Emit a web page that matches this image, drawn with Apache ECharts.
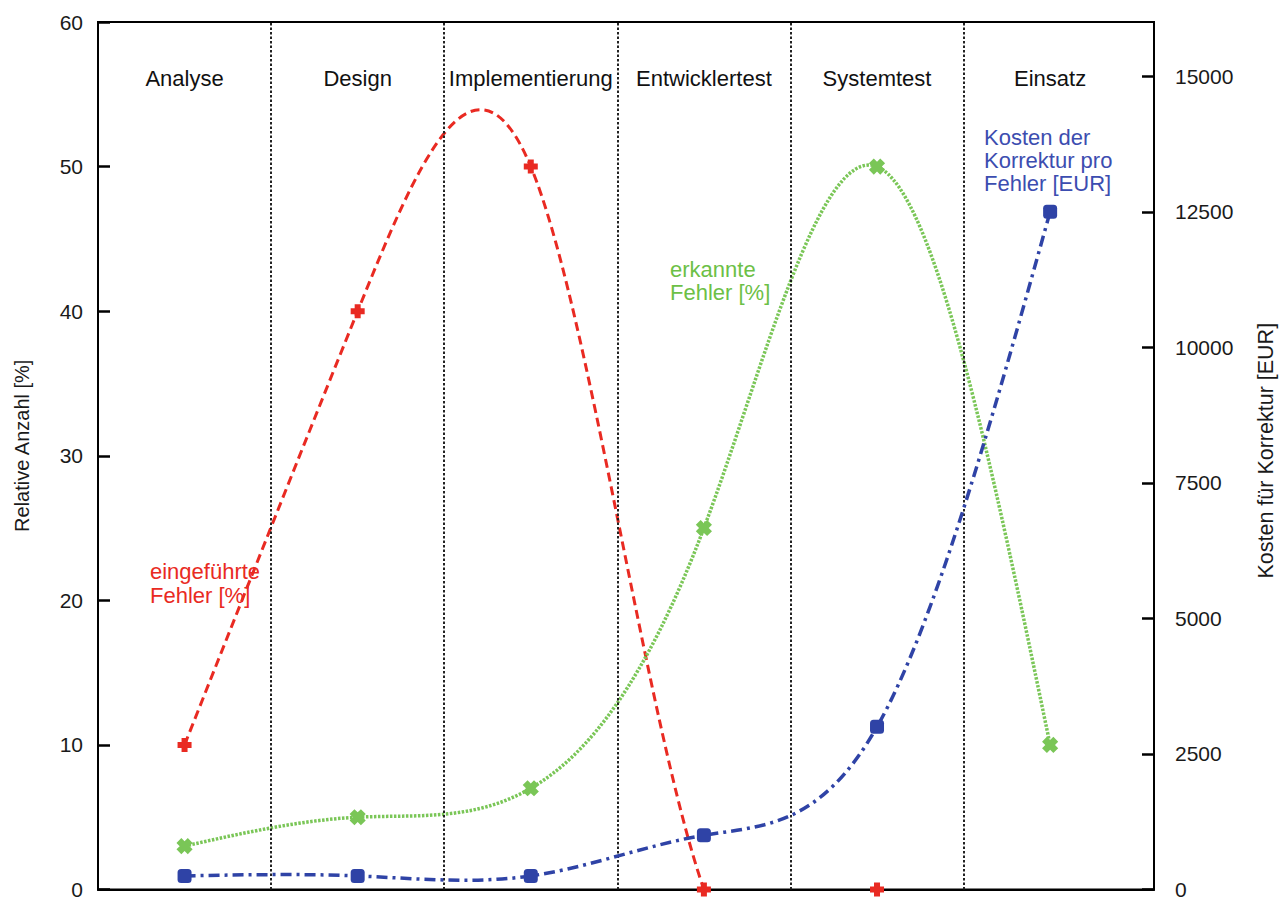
<!DOCTYPE html>
<html>
<head>
<meta charset="utf-8">
<script src="https://cdn.jsdelivr.net/npm/echarts@6/dist/echarts.min.js"></script>
<style>
  html, body { margin: 0; padding: 0; background: #ffffff; }
  #chart { width: 1285px; height: 900px; }
</style>
</head>
<body>
<div id="chart"></div>
<script>
// ---- data ----
const categories = ['Analyse', 'Design', 'Implementierung', 'Entwicklertest', 'Systemtest', 'Einsatz'];
const eingefuehrteFehler = [10, 40, 50, 0, 0];            // % (left axis)
const erkannteFehler = [3, 5, 7, 25, 50, 10];             // % (left axis)
const kostenProFehler = [250, 250, 250, 1000, 3000, 12500]; // EUR (right axis)
const leftTicks = [0, 60, 10];      // min, max, interval
const rightTicks = [0, 16000, 2500];

// ---- style / layout constants ----
const FONT = '"Liberation Sans", Arial, Helvetica, sans-serif';
const RED = '#e92a22', GREEN = '#7ac657', BLUE = '#2f43a6';
const headerLevel = 56.1;

function splinePath(pts) {
  const n = pts.length;
  const h = [], M = new Array(n).fill(0);
  for (let i = 0; i < n - 1; i++) h[i] = pts[i + 1][0] - pts[i][0];
  const a = [], b = [], c = [], d = [];
  for (let i = 1; i < n - 1; i++) {
    a.push(h[i - 1]); b.push(2 * (h[i - 1] + h[i])); c.push(h[i]);
    d.push(6 * ((pts[i + 1][1] - pts[i][1]) / h[i] - (pts[i][1] - pts[i - 1][1]) / h[i - 1]));
  }
  const m = b.length;
  for (let i = 1; i < m; i++) { const w = a[i] / b[i - 1]; b[i] -= w * c[i - 1]; d[i] -= w * d[i - 1]; }
  const sol = new Array(m);
  for (let i = m - 1; i >= 0; i--) sol[i] = (d[i] - (i < m - 1 ? c[i] * sol[i + 1] : 0)) / b[i];
  for (let i = 0; i < m; i++) M[i + 1] = sol[i];
  let p = 'M' + pts[0][0] + ',' + pts[0][1];
  for (let i = 0; i < n - 1; i++) {
    const x0 = pts[i][0], y0 = pts[i][1], x1 = pts[i + 1][0], y1 = pts[i + 1][1], hh = h[i];
    const s = (y1 - y0) / hh;
    const d0 = s - hh * (2 * M[i] + M[i + 1]) / 6;
    const d1 = s + hh * (M[i] + 2 * M[i + 1]) / 6;
    p += ' C' + (x0 + hh / 3) + ',' + (y0 + d0 * hh / 3) + ' ' + (x1 - hh / 3) + ',' + (y1 - d1 * hh / 3) + ' ' + x1 + ',' + y1;
  }
  return p;
}

function curveSeries(name, vals, color, width, dash, yAxisIndex, z) {
  return {
    type: 'custom', name: name, yAxisIndex: yAxisIndex, z: z, silent: true,
    data: vals.map((v, i) => [i, v]),
    encode: { x: 0, y: 1 },
    renderItem: function (params, api) {
      if (params.dataIndex !== 0) return null;
      const pts = vals.map((v, i) => api.coord([i, v]));
      const cs = params.coordSys;
      return {
        type: 'path',
        shape: { pathData: splinePath(pts) },
        style: { fill: 'none', stroke: color, lineWidth: width, lineDash: dash },
        clipPath: { type: 'rect', shape: { x: cs.x, y: cs.y, width: cs.width, height: cs.height } }
      };
    }
  };
}

const PLUS = 'path://M4,0H10V4H14V10H10V14H4V10H0V4H4Z';

function markerSeries(name, vals, color, symbol, size, rotate, yAxisIndex) {
  return {
    type: 'scatter', name: name, yAxisIndex: yAxisIndex, z: 10, silent: true,
    data: vals.map((v, i) => [i, v]),
    symbol: symbol, symbolSize: size, symbolRotate: rotate,
    itemStyle: { color: color, opacity: 1 }
  };
}

const chart = echarts.init(document.getElementById('chart'), null, { renderer: 'svg' });
chart.setOption({
  animation: false,
  backgroundColor: '#ffffff',
  grid: { left: 98, right: 129, top: 22, bottom: 10, show: true, borderColor: '#000', borderWidth: 2, backgroundColor: 'transparent' },
  xAxis: {
    type: 'value', min: -0.5, max: 5.6,
    axisLine: { show: true, onZero: false, lineStyle: { color: '#000', width: 2 } },
    axisTick: { show: false }, axisLabel: { show: false }, splitLine: { show: false }
  },
  yAxis: [
    {
      type: 'value', min: leftTicks[0], max: leftTicks[1], interval: leftTicks[2],
      name: 'Relative Anzahl [%]', nameLocation: 'middle', nameGap: 66,
      nameTextStyle: { fontFamily: FONT, fontSize: 20, color: '#1a1a1a', padding: [0, 0, 0, 20] },
      axisLine: { show: true, onZero: false, lineStyle: { color: '#000', width: 2 } },
      axisTick: { show: true, inside: true, length: 12, lineStyle: { color: '#000', width: 2.5 } },
      axisLabel: { fontFamily: FONT, fontSize: 21, color: '#1a1a1a', margin: 15 },
      splitLine: { show: false }
    },
    {
      type: 'value', position: 'right', min: rightTicks[0], max: rightTicks[1], interval: rightTicks[2],
      name: 'Kosten für Korrektur [EUR]', nameLocation: 'middle', nameGap: 101, nameRotate: 90,
      nameTextStyle: { fontFamily: FONT, fontSize: 21.5, color: '#1a1a1a', padding: [0, 0, 0, 10] },
      axisLine: { show: true, onZero: false, lineStyle: { color: '#000', width: 2 } },
      axisTick: { show: true, inside: true, length: 12, lineStyle: { color: '#000', width: 2.5 } },
      axisLabel: { fontFamily: FONT, fontSize: 21, color: '#1a1a1a', margin: 21, showMaxLabel: false,
                   formatter: v => String(v) },
      splitLine: { show: false }
    }
  ],
  series: [
    {
      type: 'scatter', name: 'Phasen', z: 1, silent: true,
      data: categories.map((c, i) => [i, headerLevel]),
      symbolSize: 0,
      itemStyle: { opacity: 1 },
      label: {
        show: true, position: 'inside', formatter: p => categories[p.dataIndex],
        fontFamily: FONT, fontSize: 22, color: '#111111', opacity: 1
      },
      markLine: {
        silent: true, symbol: 'none', label: { show: false },
        lineStyle: { color: '#222', width: 2, type: [2.5, 2] },
        data: categories.slice(1).map((c, i) => ({ xAxis: i + 0.5 }))
      }
    },
    curveSeries('eingeführte Fehler [%]', eingefuehrteFehler, RED, 3, [9, 5], 0, 3),
    curveSeries('erkannte Fehler [%]', erkannteFehler, GREEN, 3.5, [2.5, 1.5], 0, 4),
    curveSeries('Kosten der Korrektur pro Fehler [EUR]', kostenProFehler, BLUE, 3.5, [11, 5, 3, 5], 1, 5),
    markerSeries('eingeführte Fehler', eingefuehrteFehler, RED, PLUS, 14, 0, 0),
    markerSeries('erkannte Fehler', erkannteFehler, GREEN, PLUS, 16, 45, 0),
    markerSeries('Kosten', kostenProFehler, BLUE, 'roundRect', 14, 0, 1)
  ],
  graphic: [
    { type: 'text', left: 150, top: 559, silent: true,
      style: { text: 'eingeführte\nFehler [%]', fill: RED, fontFamily: FONT, fontSize: 22, lineHeight: 24 } },
    { type: 'text', left: 670, top: 258, silent: true,
      style: { text: 'erkannte\nFehler [%]', fill: '#6cc046', fontFamily: FONT, fontSize: 22, lineHeight: 23 } },
    { type: 'text', left: 984, top: 126, silent: true,
      style: { text: 'Kosten der\nKorrektur pro\nFehler [EUR]', fill: '#3c4db0', fontFamily: FONT, fontSize: 22, lineHeight: 23 } }
  ]
});
</script>
</body>
</html>
